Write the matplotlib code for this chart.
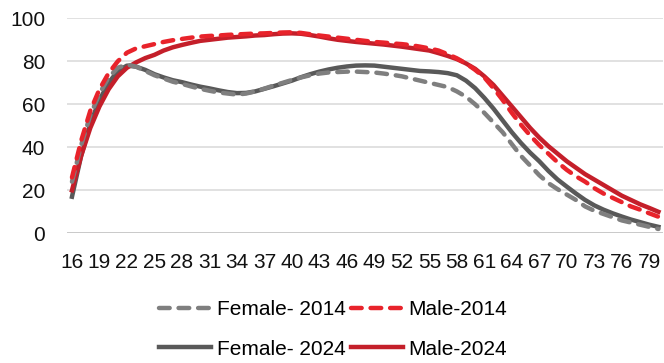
import matplotlib
matplotlib.use("Agg")
import matplotlib.pyplot as plt

plt.rcParams['font.family'] = ['Liberation Sans', 'DejaVu Sans']

# participation rate (%) by single year of age
ages = list(range(16, 81))

female_2014 = [24, 41, 55, 65, 72.5, 77, 78.5, 77.5, 75.5, 73.5,
               72, 70.5, 69.5, 68.3, 67.2, 66.3, 65.5, 65, 64.5, 65,
               66, 67.3, 68.7, 70, 71.3, 72.5, 73.5, 74.3, 74.8, 75,
               75.2, 75.2, 75, 74.8, 74.3, 73.7, 73, 72, 71, 70,
               69, 68, 66, 63.5, 60, 56, 51.5, 47, 41.5, 36,
               31.5, 27, 23.3, 20.5, 18, 15.5, 12.5, 10.5, 9, 7.5,
               6, 5, 4, 3, 2]
male_2014 = [26, 43, 57, 67, 74.5, 80, 84, 86, 87, 88,
             89, 89.8, 90.4, 91, 91.5, 91.8, 92, 92.3, 92.5, 92.7,
             92.9, 93, 93.2, 93.4, 93.5, 93.2, 92.6, 92, 91.5, 91,
             90.5, 90, 89.5, 89, 88.7, 88.3, 88, 87.5, 86.8, 86,
             85, 83.3, 81.4, 79, 76, 72.5, 67.5, 62, 56, 50.5,
             45.5, 41, 37, 33, 29.5, 26.5, 24, 21, 18.5, 16.5,
             14.5, 12.5, 11, 9.3, 7.7]
female_2024 = [17, 36, 51, 62, 70, 75.5, 78, 77.5, 76, 74,
               72.5, 71.2, 70.3, 69.2, 68.2, 67.4, 66.5, 65.7, 65.2, 65.3,
               66, 67.2, 68.4, 69.7, 71, 72.6, 74, 75.2, 76.2, 77,
               77.6, 78, 78.1, 78, 77.5, 77, 76.5, 76, 75.5, 75.3,
               75, 74.5, 73.5, 71, 67.5, 63, 58, 52.5, 47, 42,
               37.5, 33.5, 29, 25, 21.7, 18.5, 15.5, 13, 11, 9.3,
               7.8, 6.4, 5.2, 4, 3]
male_2024 = [20, 36, 49, 59, 67, 73, 77, 79.5, 81.5, 83,
             85, 86.5, 87.6, 88.6, 89.5, 90, 90.5, 91, 91.3, 91.6,
             92, 92.2, 92.6, 92.9, 93, 92.8, 92.2, 91.5, 90.7, 90,
             89.5, 89, 88.6, 88.2, 87.8, 87.3, 86.8, 86.2, 85.6, 85,
             83.8, 82.5, 81, 79, 76.5, 73, 69, 64, 59, 54,
             49, 44.5, 40.5, 37, 33.5, 30.5, 27.5, 25, 22.5, 20,
             17.5, 15.5, 13.5, 11.8, 10]

yticks = [0, 20, 40, 60, 80, 100]

GREY_DASH = "#7f7f7f"
GREY_SOLID = "#595959"
RED_DASH = "#e8232b"
RED_SOLID = "#c41f2a"

fig = plt.figure(figsize=(6.64, 3.63), dpi=100)
ax = fig.add_axes([0.1015, 0.3573, 0.897, 0.5923])

x = list(range(len(ages)))
dash = dict(linestyle=(0, (2.4, 2.0)), dash_capstyle="round", lw=3.2)

l_f24, = ax.plot(x, female_2024, color=GREY_SOLID, lw=3.2, label="Female- 2024", zorder=3)
l_m24, = ax.plot(x, male_2024, color=RED_SOLID, lw=3.2, label="Male-2024", zorder=4)
l_f14, = ax.plot(x, female_2014, color=GREY_DASH, label="Female- 2014", zorder=5, **dash)
l_m14, = ax.plot(x, male_2014, color=RED_DASH, label="Male-2014", zorder=6, **dash)

ax.set_xlim(-0.5, len(ages) - 0.5)
ax.set_ylim(0, 100)
ax.set_yticks(yticks)
ax.set_xticks(x[::3])
ax.set_xticklabels([str(a) for a in ages[::3]])

ax.grid(axis="y", color="#d9d9d9", lw=1.1, zorder=0)
ax.set_axisbelow(True)
for s in ax.spines.values():
    s.set_visible(False)
ax.axhline(0, color="#c8c8c8", lw=1.3, zorder=1)

ax.tick_params(axis="both", length=0, labelsize=15, colors="#111111")
ax.tick_params(axis="y", pad=16)
ax.tick_params(axis="x", pad=14)

fig.legend(handles=[l_f14, l_f24, l_m14, l_m24], ncol=2,
           loc="center", bbox_to_anchor=(333 / 664, 1 - 329.5 / 363),
           frameon=False, fontsize=15, handlelength=2.5,
           handletextpad=0.25, columnspacing=0.25, labelspacing=0.98,
           borderpad=0, borderaxespad=0)

fig.savefig("out.png", dpi=100)
